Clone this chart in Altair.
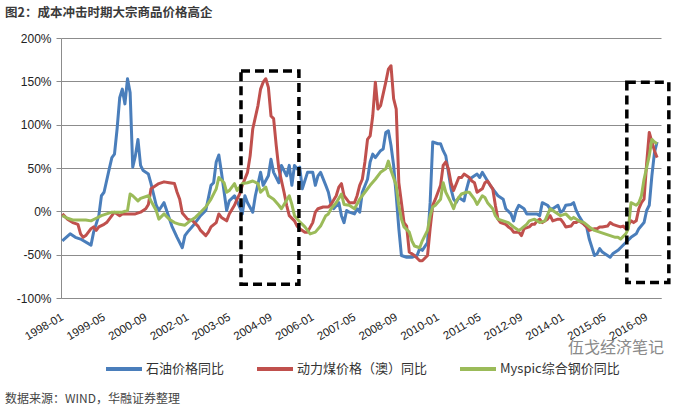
import altair as alt
import pandas as pd

# ---------------- data (months counted from 1998-01 = 0) ----------------
series_names = ["石油价格同比", "动力煤价格（澳）同比", "Myspic综合钢价同比"]
series_colors = ["#4A7EBB", "#C0504D", "#9BBB59"]

tick_labels = ["1998-01", "1999-05", "2000-09", "2002-01", "2003-05", "2004-09",
               "2006-01", "2007-05", "2008-09", "2010-01", "2011-05", "2012-09",
               "2014-01", "2015-05", "2016-09"]
y_ticks = [-100, -50, 0, 50, 100, 150, 200]

oil_months = [0, 3, 5, 7, 11, 12, 14, 15, 16, 18, 19, 20, 21, 22, 23, 24, 25, 26, 27, 28, 29, 30,
              31, 33, 34, 36, 37, 39, 40, 42, 44, 46, 47, 48, 50, 52, 53, 55, 57, 58, 59, 60,
              61, 63, 64, 66, 68, 69, 70, 71, 73, 74, 76, 77, 79, 80, 81, 83, 84, 86, 87, 88,
              89, 90, 91, 92, 94, 96, 97, 98, 99, 101, 102, 103, 104, 106, 107, 108, 109, 110,
              112, 113, 114, 115, 117, 118, 119, 120, 122, 123, 124, 125, 126, 127, 128, 129,
              130, 132, 134, 136, 137, 138, 140, 141, 142, 144, 145, 146, 147, 149, 150, 151,
              152, 154, 155, 156, 158, 159, 160, 161, 163, 164, 165, 167, 168, 169, 170, 172,
              173, 174, 175, 177, 178, 180, 182, 183, 184, 186, 187, 188, 190, 191, 192, 193,
              195, 196, 197, 198, 200, 201, 202, 204, 205, 206, 207, 209, 210, 211, 213, 214,
              216, 218, 220, 221, 223, 224, 225, 226, 227, 228]
oil_values = [-34, -26, -30, -32, -39, -24, -5, 18, 22, 49, 62, 66, 95, 131, 141, 124, 153, 137, 51, 64, 83, 53,
              47, 43, 32, 7, 1, 10, 1, -17, -30, -42, -28, -24, -17, -9, -5, 1, 30, 33, 57, 65,
              45, 1, 12, 18, 5, -3, 18, 10, -1, 18, 45, 30, 41, 60, 45, 33, 53, 41, 53, 30,
              53, 49, 51, 26, 45, 45, 30, 41, 45, 30, 22, 8, 3, 10, -5, -13, 1, -1,
              -3, 3, -1, 22, 37, 57, 66, 62, 70, 72, 91, 93, 76, 53, 18, -20,
              -51, -53, -53, -51, -43, -45, -36, 10, 80, 78, 78, 70, 64, 26, 14, 10,
              16, 12, 26, 37, 41, 43, 39, 45, 35, 30, 26, 18, 16, 14, 3, -3,
              -11, 1, 7, 3, -3, -3, -3, -5, 10, 7, 3, 3, 7, -1, 1, 7,
              8, 10, 1, -5, -15, -18, -32, -51, -49, -43, -47, -51, -53, -49, -45, -42,
              -36, -30, -26, -20, -13, 1, 7, 41, 68, 80]

coal_months = [0, 2, 4, 6, 7, 8, 9, 11, 12, 13, 14, 16, 17, 18, 20, 22, 23, 26, 28, 30, 32, 33,
               34, 36, 37, 39, 41, 43, 44, 45, 46, 48, 50, 52, 53, 55, 56, 57, 59, 60, 61, 63,
               64, 66, 67, 68, 69, 71, 72, 73, 75, 76, 77, 78, 79, 80, 81, 82, 83, 85, 86, 87,
               89, 90, 91, 92, 93, 94, 96, 97, 98, 100, 102, 103, 105, 106, 107, 108, 109, 110,
               112, 113, 114, 115, 116, 117, 118, 119, 120, 121, 122, 124, 125, 126, 127, 128,
               129, 131, 132, 133, 135, 137, 138, 140, 141, 142, 143, 145, 146, 147, 148, 149,
               150, 152, 153, 154, 156, 157, 158, 159, 161, 162, 163, 165, 166, 167, 168, 170,
               171, 172, 173, 175, 176, 177, 179, 180, 181, 182, 183, 184, 186, 187, 188, 190,
               191, 192, 193, 195, 196, 197, 198, 200, 201, 202, 204, 205, 206, 207, 209, 210,
               211, 213, 214, 215, 216, 218, 219, 220, 221, 222, 223, 224, 225, 226, 227, 228]
coal_values = [-3, -9, -13, -15, -26, -30, -28, -20, -18, -22, -18, -15, -13, -9, -1, -5, -3, -3, -3, -1, 3, 8,
               26, 30, 32, 34, 33, 32, 22, 14, -2, -9, -11, -17, -22, -28, -24, -18, -13, -3, -7, -11,
               -3, 7, 14, 20, 30, 45, 64, 95, 122, 141, 149, 153, 143, 110, 107, 76, 49, 22, 7, -5,
               -11, -17, -20, -22, -24, -24, -13, -1, 3, 5, 5, 8, 18, 28, 32, 18, 14, 10,
               10, 18, 30, 37, 57, 83, 87, 110, 149, 118, 122, 149, 164, 168, 130, 118,
               33, -13, -17, -47, -51, -57, -57, -51, -20, 7, 14, 30, 53, 57, 49, 33,
               24, 39, 39, 43, 39, 35, 33, 22, 26, 33, 35, 26, 7, -9, -13, -15,
               -18, -20, -24, -24, -28, -20, -18, -15, -15, -11, -9, -13, -9, -5, -11, -9,
               -9, -13, -18, -17, -13, -13, -11, -15, -18, -22, -20, -20, -18, -18, -17, -13,
               -15, -17, -18, -17, -20, -11, -13, -11, 3, 10, 14, 55, 91, 80, 70, 62]

steel_months = [0, 2, 4, 7, 9, 11, 13, 15, 17, 19, 21, 23, 25, 26, 27, 29, 30, 33, 34, 36, 37, 39,
                41, 43, 45, 47, 49, 51, 53, 55, 57, 59, 60, 62, 63, 64, 66, 67, 68, 69, 71, 73,
                75, 76, 78, 79, 81, 83, 84, 85, 87, 88, 89, 91, 93, 95, 97, 99, 101, 102, 103, 105,
                107, 108, 110, 112, 114, 116, 118, 120, 122, 124, 125, 126, 128, 129, 130, 131, 133, 134,
                135, 137, 138, 139, 140, 141, 142, 143, 145, 146, 147, 149, 150, 151, 153, 155, 156, 158,
                159, 161, 162, 163, 165, 166, 167, 169, 171, 173, 175, 176, 178, 179, 181, 183, 185, 187,
                189, 191, 193, 195, 196, 198, 200, 202, 204, 206, 208, 210, 212, 213, 214, 216, 217, 218,
                220, 221, 222, 223, 225, 226, 227, 228]
steel_values = [-5, -8, -10, -10, -10, -11, -8, -5, -3, -1, -1, -1, 1, 20, 18, 12, 15, 18, 12, 1, -9, -3,
                -9, -13, -15, -16, -11, -7, -1, 5, 14, 26, 39, 33, 22, 24, 32, 24, 28, 32, 33, 35,
                32, 22, 28, 18, 14, 7, 3, 8, 18, 8, -5, -12, -18, -26, -24, -17, -5, -3, 3, 10,
                20, 8, 7, 3, 14, 22, 30, 37, 45, 49, 58, 47, 30, 7, -9, -18, -24, -34,
                -40, -42, -34, -28, -22, -5, 5, 7, 14, 33, 22, 10, 3, 12, 20, 22, 22, 14,
                8, 18, 16, 10, 3, -5, -9, -11, -13, -18, -22, -20, -15, -11, -9, -13, -11, 3,
                -1, -5, -3, -9, -7, -11, -13, -18, -22, -24, -26, -28, -30, -30, -32, -26, -20, 10,
                7, 10, 18, 37, 64, 83, 80, 78]

# highlighted periods (dashed boxes): month range and value range
box_start = [68.5, 216.4]
box_end = [90.7, 232.5]
box_top = [162, 149]
box_bottom = [-84, -82]

title_text = "图2：成本冲击时期大宗商品价格高企"
source_text = "数据来源：WIND，华融证券整理"
watermark_text = "伍戈经济笔记"

# ---------------- chart ----------------
tick_positions = [(int(s[:4]) - 1998) * 12 + int(s[5:]) - 1 for s in tick_labels]
label_array = "[" + ",".join("'%s'" % s for s in tick_labels) + "]"
label_expr = label_array + "[round(datum.value / 16)]"

CJK = "Noto Sans CJK SC"
LAT = "Liberation Sans"

x_scale = alt.Scale(domain=[-0.5, 229.5], zero=False, nice=False)
y_scale = alt.Scale(domain=[-100, 200], zero=False, nice=False)

x_axis = alt.Axis(values=tick_positions, labelExpr=label_expr, labelAngle=-30,
                  labelAlign="right", labelBaseline="top", labelOffset=-3,
                  labelFont=LAT, labelFontSize=11.5, labelColor="#222222",
                  ticks=False, grid=False, domainColor="#8c8c8c",
                  labelPadding=13, labelOverlap=False, title=None)
y_axis = alt.Axis(values=y_ticks, labelExpr="datum.value + '%'",
                  labelFont=LAT, labelFontSize=12, labelColor="#222222",
                  grid=True, gridColor="#8c8c8c", gridWidth=1,
                  domainColor="#8c8c8c", tickColor="#8c8c8c", tickSize=5,
                  labelPadding=5, title=None)

color = alt.Color(
    "series:N",
    scale=alt.Scale(domain=series_names, range=series_colors),
    legend=alt.Legend(
        title=None, orient="none", direction="horizontal",
        legendX=43, legendY=311, padding=0,
        symbolType="stroke", symbolSize=1296, symbolStrokeWidth=4,
        labelFont=CJK, labelFontSize=13, labelColor="#333333",
        labelOffset=2, columnPadding=24,
    ),
)

def line_layer(name, months, values):
    df = pd.DataFrame({"month": months, "value": values, "series": name})
    return alt.Chart(df).mark_line(strokeWidth=3, strokeJoin="round").encode(
        x=alt.X("month:Q", scale=x_scale, axis=x_axis),
        y=alt.Y("value:Q", scale=y_scale, axis=y_axis),
        color=color)

oil = line_layer(series_names[0], oil_months, oil_values)
coal = line_layer(series_names[1], coal_months, coal_values)
steel = line_layer(series_names[2], steel_months, steel_values)

box_df = pd.DataFrame({"x1": box_start, "x2": box_end, "y1": box_top, "y2": box_bottom})
boxes = alt.Chart(box_df).mark_rect(
    fillOpacity=0, stroke="black", strokeWidth=3.5, strokeDash=[9, 5]
).encode(
    x=alt.X("x1:Q", scale=x_scale, axis=x_axis), x2="x2:Q",
    y=alt.Y("y1:Q", scale=y_scale, axis=y_axis), y2="y2:Q",
)

title = alt.Chart(pd.DataFrame({"t": [title_text]})).mark_text(
    align="left", baseline="middle", font=CJK, fontSize=12.5, fontWeight="bold", color="#3a3a3a"
).encode(x=alt.value(-56), y=alt.value(-25), text="t:N")

source = alt.Chart(pd.DataFrame({"t": [source_text]})).mark_text(
    align="left", baseline="middle", font=CJK, fontSize=12, color="#444444"
).encode(x=alt.value(-56), y=alt.value(361), text="t:N")

watermark = alt.Chart(pd.DataFrame({"t": [watermark_text]})).mark_text(
    align="left", baseline="middle", font=CJK, fontSize=16, color="#8a8a8a"
).encode(x=alt.value(507), y=alt.value(310), text="t:N")

chart = alt.layer(oil, coal, steel, boxes, watermark, title, source).properties(
    width=600, height=260,
    autosize=alt.AutoSizeParams(type="none"),
    padding={"left": 61, "top": 38, "right": 15, "bottom": 112},
    background="white",
).configure_view(strokeWidth=0)

chart.save("out.html", embed_options={"renderer": "svg", "actions": False})
